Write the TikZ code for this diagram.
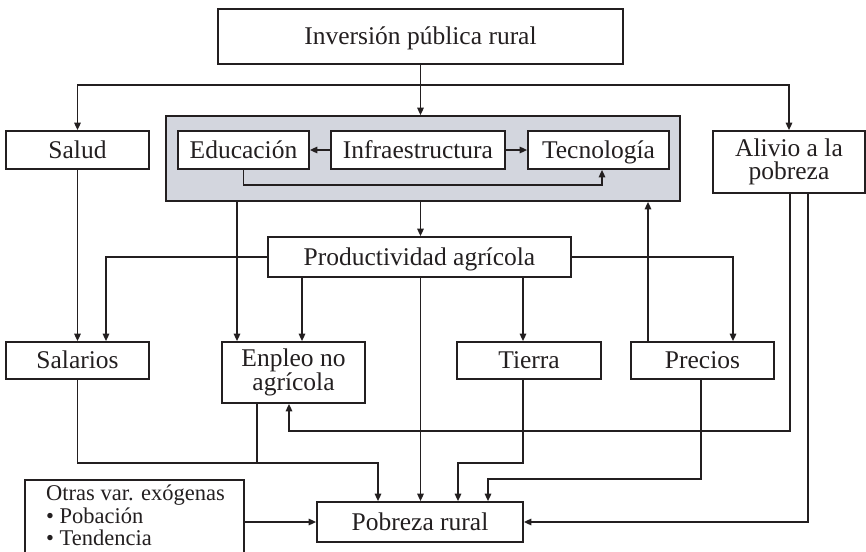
\documentclass[tikz,border=0pt]{standalone}
\usepackage{fontspec}
\setmainfont{Liberation Serif}
\usetikzlibrary{arrows.meta,calc}
\definecolor{greyfill}{RGB}{211,214,222}
\definecolor{ink}{RGB}{35,31,32}
\begin{document}
\begin{tikzpicture}[x=1pt,y=-1pt,
  every node/.style={text=ink},
  box/.style={draw=ink, line width=1.7pt, fill=white, inner sep=0pt,
    font=\fontsize{25.5}{22.5}\selectfont, align=center},
  one/.style={text height=16.8pt, text depth=0pt},
  arr/.style={draw=ink, line width=1.5pt, -{Triangle[length=7.5pt,width=6.5pt]}},
  ln/.style={draw=ink, line width=1.5pt}]
\useasboundingbox (0,0) rectangle (866,551);
\clip (0,0) rectangle (866,551);

% boxes
\node[box, one, minimum width=405pt, minimum height=55pt] (inv) at (420.5,36.5) {Inversión pública rural};
\node[box, one, minimum width=143pt, minimum height=38pt] (salud) at (77.5,150) {Salud};
\node[draw=ink, line width=1.7pt, fill=greyfill, inner sep=0pt, minimum width=514pt, minimum height=85pt] (grey) at (423,158.5) {};
\node[box, one, minimum width=131pt, minimum height=38pt] (edu) at (243.5,150) {Educación};
\node[box, one, minimum width=174pt, minimum height=38pt] (infra) at (418,150) {Infraestructura};
\node[box, one, minimum width=141pt, minimum height=38pt] (tec) at (598.5,150) {Tecnología};
\node[box, minimum width=152pt, minimum height=62pt] (alivio) at (789,162) {Alivio a la\\pobreza};
\node[box, one, minimum width=303pt, minimum height=40pt] (prod) at (419.5,257) {Productividad agrícola};
\node[box, one, minimum width=143pt, minimum height=37pt] (sal) at (77.5,360.5) {Salarios};
\node[box, minimum width=143pt, minimum height=61pt] (emp) at (293.5,372.5) {Enpleo no\\agrícola};
\node[box, one, minimum width=144pt, minimum height=37pt] (tie) at (529,360.5) {Tierra};
\node[box, one, minimum width=143pt, minimum height=37pt] (pre) at (702.5,360.5) {Precios};
\node[box, one, minimum width=206pt, minimum height=40pt] (pob) at (420,522) {Pobreza rural};
\node[draw=ink, line width=1.7pt, fill=white, inner sep=0pt, minimum width=219pt, minimum height=100pt, anchor=north west] (otrasbox) at (24,479) {};
\node[anchor=north west, inner sep=0pt, align=left, font=\fontsize{22.5}{22.5}\selectfont] (otras) at (46,485) {Otras var. exógenas\\• Pobación\\• Tendencia};

% connectors
\coordinate (j1) at (inv.south |- 0,85);
\draw[ln] (inv.south) -- (j1);
\draw[arr] (j1) -- (inv.south |- grey.north);
\draw[arr] (j1) -| (salud.north);
\draw[arr] (j1) -| (alivio.north);
\draw[arr] (infra.west) -- (edu.east);
\draw[arr] (infra.east) -- (tec.west);
\draw[arr] (edu.south) -- ++(0,15) -| ([xshift=3.5pt]tec.south);
\draw[arr] (grey.south -| inv.south) -- (prod.north -| inv.south);
\draw[arr] (grey.south -| 237,0) -- (emp.north -| 237,0);
\draw[arr] (salud.south) -- (sal.north);
\draw[arr] (prod.west) -| (sal.north -| 106,0);
\draw[arr] (prod.south -| 302,0) -- (emp.north -| 302,0);
\draw[arr] (prod.south -| inv.south) -- (pob.north -| inv.south);
\draw[arr] (prod.south -| 523,0) -- (tie.north -| 523,0);
\draw[arr] (prod.east) -| (pre.north -| 733,0);
\draw[arr] (pre.north -| 648,0) -- (grey.south -| 648,0);
\draw[arr] (alivio.south -| 790,0) |- (289,431) -- (emp.south -| 289,0);
\draw[arr] (alivio.south -| 808,0) |- (pob.east);
\draw[arr] (sal.south) |- (378,463) -- (pob.north -| 378,0);
\draw[ln] (emp.south -| 257,0) -- (257,463);
\draw[arr] (tie.south -| 523,0) |- (458,463) -- (pob.north -| 458,0);
\draw[arr] (pre.south -| 701,0) |- (488,479) -- (pob.north -| 488,0);
\draw[arr] (otrasbox.east |- pob.west) -- (pob.west);
\end{tikzpicture}
\end{document}
